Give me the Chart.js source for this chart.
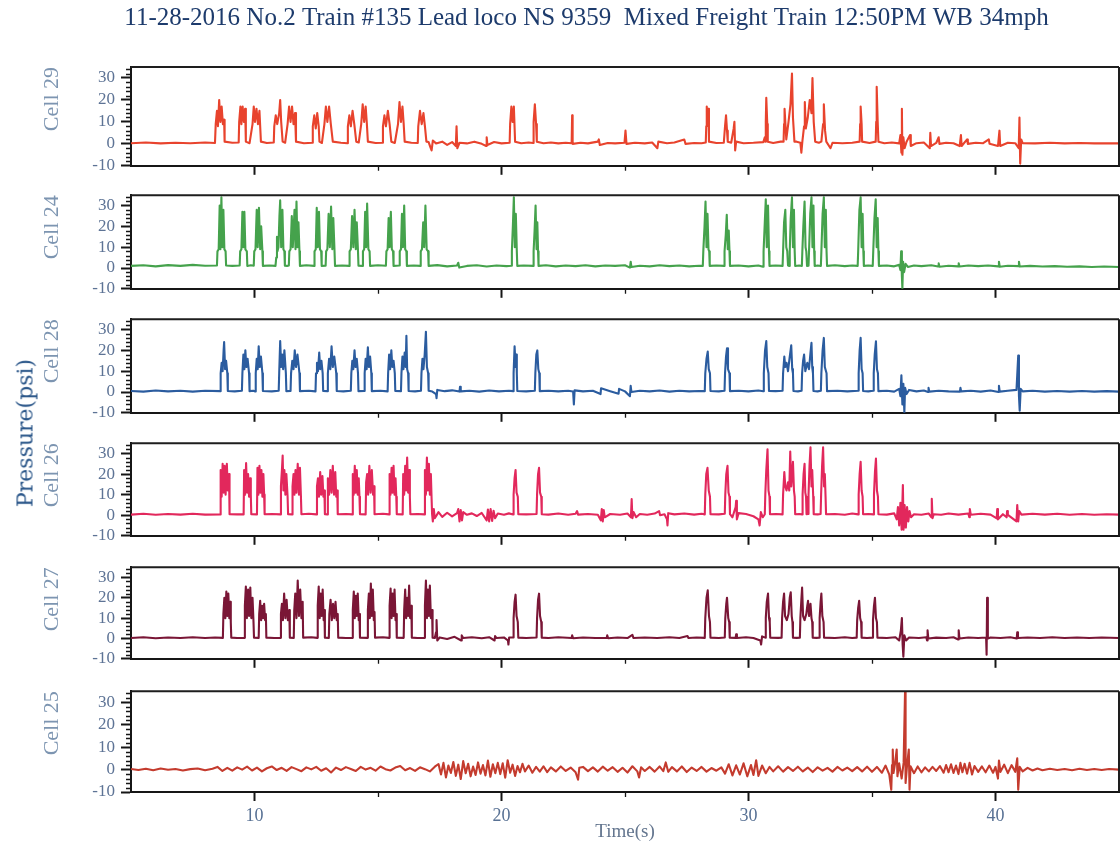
<!DOCTYPE html>
<html>
<head>
<meta charset="utf-8">
<script src="https://cdn.jsdelivr.net/npm/chart.js@4.4.1/dist/chart.umd.min.js"></script>
<style>
  html, body { margin: 0; padding: 0; background: #ffffff; }
  #root { position: relative; width: 1120px; height: 843px; overflow: hidden; background: #ffffff; }
  #root canvas { position: absolute; left: 0; }
  #ylab { position: absolute; left: 25px; top: 433px; transform: translate(-50%, -50%) rotate(-90deg);
          font: 22px "DejaVu Serif"; color: #2a5689; white-space: nowrap; z-index: 5; }
</style>
</head>
<body>
<div id="root"><div id="ylab">Pressure(psi)</div></div>
<script>
// ---------------- data (time s, pressure psi) ----------------
const mainTitle = '11-28-2016 No.2 Train #135 Lead loco NS 9359  Mixed Freight Train 12:50PM WB 34mph';
const cellNames = ['Cell 29', 'Cell 24', 'Cell 28', 'Cell 26', 'Cell 27', 'Cell 25'];
const xTickValues = [10, 20, 30, 40];
const xMinorValues = [15, 25, 35];
const yTickValues = [-10, 0, 10, 20, 30];
const yMinorValues = [-8, -6, -4, -2, 2, 4, 6, 8, 12, 14, 16, 18, 22, 24, 26, 28, 32, 34];

const cell29 = [
[5.0,0.3],[5.6,0.6],[6.2,0.2],[6.8,0.5],[7.4,0.3],[8.0,0.6],[8.40,0.4],
[8.43,9],[8.48,15],[8.52,8],[8.57,20],[8.62,10],[8.67,17],[8.72,9],[8.77,11],[8.79,1],
[9.1,0.5],[9.36,0.6],
[9.38,10],[9.43,17],[9.47,9],[9.52,17],[9.57,10],[9.62,16],[9.65,1],
[9.8,0.3],
[9.92,9],[9.97,17],[10.02,10],[10.08,16],[10.14,9],[10.20,15],[10.26,1],
[10.5,0.4],[10.78,0.6],
[10.80,8],[10.86,13],[10.92,9],[11.00,14],[11.04,20],[11.08,10],[11.14,1],
[11.24,0.5],
[11.34,9],[11.40,17],[11.46,10],[11.52,17],[11.58,9],[11.64,14],[11.68,1],
[12.0,0.3],[12.34,0.5],
[12.36,8],[12.42,13],[12.48,7],[12.54,14],[12.60,8],[12.63,1],
[12.73,0.4],
[12.83,9],[12.89,17],[12.95,10],[13.02,17],[13.09,9],[13.17,1],
[13.5,0.5],[13.76,0.3],
[13.78,8],[13.84,13],[13.90,8],[13.97,15],[14.04,9],[14.12,1],
[14.22,0.6],
[14.32,9],[14.38,18],[14.44,10],[14.50,17],[14.55,9],[14.59,1],
[14.9,0.4],[15.18,0.5],
[15.20,8],[15.26,13],[15.32,8],[15.40,15],[15.47,9],[15.54,1],
[15.68,0.4],
[15.81,9],[15.87,19],[15.93,10],[15.99,17],[16.04,9],[16.08,1],
[16.35,0.5],[16.61,0.4],
[16.63,8],[16.70,15],[16.77,9],[16.84,14],[16.90,8],[16.96,1],
[17.05,0.8],[17.12,-1.5],[17.17,-3],[17.22,1.5],[17.35,0.2],[17.6,1],[17.8,-0.5],[18.0,0.8],[18.15,-1],[18.18,8],[18.21,-2],[18.3,0.5],[18.6,0.2],[18.9,1],[19.2,0],[19.38,-1],[19.40,3],[19.43,-0.5],[19.7,0.8],[20.0,0.2],[20.33,0.5],
[20.35,9],[20.40,17],[20.45,10],[20.50,17],[20.55,1],
[20.8,0.3],[21.1,0.6],[21.28,0.4],
[21.30,10],[21.35,18],[21.40,9],[21.43,1],
[21.7,0.3],[22.0,0.6],[22.3,0.2],[22.6,0.5],[22.84,0.3],[22.86,13],[22.88,0],
[23.2,0.5],[23.5,0.2],[23.9,1],[23.94,2],[23.98,-0.5],[24.3,0.4],[24.6,0.2],[24.98,0.5],[25.02,6],[25.06,0],
[25.4,0.5],[25.8,0.2],[26.1,0.6],[26.31,-2],[26.35,1],[26.7,0.3],[27.0,0.6],[27.4,2],[27.45,0],[27.8,0.4],[28.1,0.3],[28.27,0.6],
[28.29,8],[28.31,17],[28.35,9],[28.38,16],[28.40,1],
[28.7,0.4],[29.0,0.5],[29.05,8],[29.09,13],[29.13,6],[29.16,1],[29.3,0.5],[29.40,7],[29.43,10],[29.46,-3],[29.5,1],
[29.8,0.3],[30.2,0.5],[30.6,0.8],[30.66,3],[30.68,1],[30.70,10],[30.72,21],[30.76,9],[30.78,1],
[31.0,0.4],[31.3,1],[31.42,1],[31.44,9],[31.46,16],[31.50,8],[31.53,2],[31.62,10],[31.70,18],[31.76,32],[31.80,12],[31.86,1],[31.95,1],[32.10,0.5],[32.14,-4],[32.18,1],[32.25,8],[32.28,19],[32.32,7],[32.40,12],[32.48,20],[32.55,14],[32.59,30],[32.64,10],[32.70,1],[32.85,0.5],[32.95,1],[33.02,9],[33.05,18],[33.10,6],[33.15,1],[33.32,-2],[33.4,0.5],
[33.8,0.3],[34.2,0.5],[34.50,1],[34.52,9],[34.54,17],[34.58,9],[34.60,1],
[34.9,0.4],[35.15,1],[35.17,10],[35.19,26],[35.23,10],[35.26,1],
[35.5,0.3],[35.8,0.6],[36.1,0.2],[36.15,4],[36.19,-4],[36.21,16],[36.23,-5],[36.27,3],[36.32,-2],[36.4,1],[36.54,4],[36.57,-1],[36.8,0.3],[37.1,0.6],[37.34,-2],[37.36,5],[37.39,-1],[37.6,0.4],[37.70,3],[37.73,0],[38.0,0.5],[38.3,0.3],[38.55,-1],[38.60,4],[38.63,-1],[38.85,2],[38.88,0],[39.2,0.5],[39.5,0.3],[39.73,2],[39.76,0],[40.1,-1],[40.16,6],[40.19,-1],[40.5,0.5],[40.8,0.3],[40.94,-2],[40.97,12],[41.00,-9],[41.04,2],[41.1,0.3],[41.6,0.2],[42.2,0.5],[42.8,0.2],[43.4,0.4],[44.0,0.2],[44.6,0.3],[45.0,0.2]
];

const cell24 = [
[5.0,1.0],[5.5,1.3],[6.0,0.8],[6.5,1.4],[7.0,1.0],[7.5,1.5],[8.0,1.1],[8.48,1.2],
[8.50,8],[8.55,9],[8.59,30],[8.62,9],[8.66,34],[8.70,10],[8.74,28],[8.78,9],[8.83,8],[8.85,1.2],
[9.1,1.0],[9.40,1.2],
[9.42,8],[9.47,9],[9.51,27],[9.55,10],[9.59,27],[9.63,9],[9.69,8],[9.71,1.0],
[9.85,1.3],[9.97,1.1],
[9.99,8],[10.04,9],[10.09,28],[10.13,10],[10.18,29],[10.23,9],[10.27,20],[10.32,8],[10.34,1.0],
[10.6,1.2],[10.85,1.0],[10.88,5],[10.91,15],[10.93,8],
[10.97,10],[11.01,25],[11.04,32.5],[11.08,10],[11.13,28],[11.17,9],[11.21,8],[11.23,1.1],
[11.32,1.0],[11.39,1.2],
[11.41,8],[11.46,9],[11.51,25],[11.55,10],[11.62,28],[11.66,9],[11.70,32],[11.74,10],[11.78,22],[11.82,8],[11.84,1.0],
[12.1,1.3],[12.41,1.0],
[12.43,8],[12.48,9],[12.52,29],[12.56,10],[12.61,27],[12.65,9],[12.70,8],[12.72,1.0],
[12.88,1.1],
[12.90,8],[12.95,9],[13.00,26],[13.05,10],[13.10,29.5],[13.15,9],[13.19,24],[13.24,8],[13.26,1.0],
[13.55,1.2],[13.83,1.0],
[13.85,8],[13.90,9],[13.95,25],[14.00,10],[14.05,28],[14.10,9],[14.14,22],[14.19,8],[14.21,1.1],
[14.37,1.0],
[14.39,8],[14.44,9],[14.48,27],[14.52,10],[14.56,31],[14.61,9],[14.66,8],[14.68,1.0],
[15.0,1.3],[15.32,1.1],
[15.34,8],[15.39,9],[15.43,24],[15.47,10],[15.52,27],[15.56,9],[15.61,8],[15.63,1.0],
[15.86,1.2],
[15.88,8],[15.93,9],[15.97,26],[16.01,10],[16.06,30],[16.10,9],[16.15,8],[16.17,1.0],
[16.45,1.2],[16.71,1.0],
[16.73,8],[16.78,9],[16.83,22],[16.87,10],[16.92,30],[16.97,9],[17.03,8],[17.05,1.0],
[17.4,1.4],[17.8,0.8],[18.2,1.2],[18.25,2.5],[18.29,0.2],[18.6,1.0],[19.0,1.3],[19.4,0.7],[19.8,1.2],[20.2,0.9],[20.40,1.1],
[20.42,8],[20.46,20],[20.50,34],[20.54,10],[20.58,26],[20.62,8],[20.64,1.0],
[20.9,1.2],[21.28,1.0],
[21.30,8],[21.34,18],[21.38,30],[21.42,9],[21.45,22],[21.48,8],[21.50,1.0],
[21.8,1.3],[22.2,0.8],[22.6,1.2],[23.0,0.9],[23.4,1.3],[23.8,0.8],[24.2,1.2],[24.6,1.0],[25.0,1.3],[25.20,0.2],[25.23,3],[25.26,0.5],[25.6,1.1],[26.0,0.8],[26.4,1.3],[26.8,0.9],[27.2,1.2],[27.6,0.8],[28.0,1.1],[28.15,1.0],
[28.17,8],[28.22,20],[28.26,32],[28.30,10],[28.34,26],[28.38,9],[28.41,8],[28.43,1.0],
[28.7,1.2],[29.01,1.0],
[29.03,8],[29.08,16],[29.12,25.6],[29.16,9],[29.20,18],[29.23,8],[29.25,1.0],
[29.6,1.2],[30.0,0.8],[30.4,1.2],[30.59,0.6],
[30.61,8],[30.66,22],[30.70,33],[30.74,10],[30.79,30],[30.83,8],[30.85,1.0],
[31.1,1.2],[31.38,1.0],
[31.40,8],[31.44,22],[31.49,28],[31.53,10],[31.57,8],[31.60,1.2],[31.65,1.0],
[31.67,8],[31.71,24],[31.76,34],[31.80,10],[31.84,28],[31.87,8],[31.89,1.0],
[32.05,1.2],[32.16,1.0],
[32.18,8],[32.22,20],[32.27,32],[32.31,10],[32.34,8],[32.37,1.0],[32.43,1.1],
[32.45,8],[32.50,26],[32.55,34],[32.59,10],[32.63,30],[32.66,8],[32.68,1.0],
[32.80,1.2],[32.93,1.0],
[32.95,8],[33.00,26],[33.05,34],[33.09,10],[33.13,28],[33.16,8],[33.18,1.0],
[33.5,1.3],[33.9,0.9],[34.2,1.2],[34.42,1.0],
[34.44,8],[34.49,28],[34.54,34],[34.58,10],[34.62,26],[34.65,8],[34.67,1.0],
[34.85,1.2],[35.03,1.0],
[35.05,8],[35.10,24],[35.15,33],[35.19,10],[35.23,24],[35.26,8],[35.28,1.0],
[35.6,1.2],[35.9,0.8],[36.1,1.5],[36.15,-1],[36.18,8],[36.21,-4],[36.23,-10],[36.26,3],[36.30,-2],[36.36,2],[36.45,0.5],[36.7,1.2],[37.0,0.9],[37.4,1.3],[37.68,0.7],[37.70,2.2],[37.73,0.6],[38.1,1.1],[38.49,0.8],[38.51,2.3],[38.54,0.7],[38.9,1.2],[39.3,0.9],[39.7,1.2],[40.12,0.8],[40.14,3],[40.17,0.6],[40.5,1.1],[40.93,0.9],[40.95,3],[40.98,0.7],[41.4,1.0],[41.9,0.7],[42.4,0.9],[42.9,0.6],[43.4,0.8],[43.9,0.5],[44.4,0.7],[45.0,0.5]
];

const cell28 = [
[5.0,0.5],[5.5,0.2],[6.0,0.7],[6.5,0.3],[7.0,0.6],[7.5,0.2],[8.0,0.6],[8.61,0.4],
[8.63,9],[8.67,14],[8.71,10],[8.75,20],[8.77,24],[8.81,11],[8.85,15],[8.90,9],[8.92,0.5],
[9.2,0.3],[9.49,0.6],
[9.51,9],[9.55,18],[9.59,11],[9.63,20],[9.67,12],[9.72,16],[9.78,9],[9.80,0.4],
[9.95,0.6],[10.03,0.3],
[10.05,9],[10.09,16],[10.13,11],[10.17,22],[10.21,12],[10.26,17],[10.32,9],[10.34,0.5],
[10.7,0.3],[10.98,0.6],
[11.00,9],[11.04,24.5],[11.08,12],[11.12,18],[11.16,11],[11.21,20],[11.27,9],[11.29,0.4],
[11.46,0.5],
[11.48,9],[11.53,15],[11.58,11],[11.63,20],[11.68,12],[11.74,18],[11.82,9],[11.84,0.4],
[12.2,0.6],[12.47,0.3],
[12.49,9],[12.53,14],[12.57,10],[12.62,19],[12.66,11],[12.71,15],[12.76,9],[12.78,0.5],
[12.95,0.4],
[12.97,9],[13.02,16],[13.07,11],[13.12,22],[13.17,12],[13.23,17],[13.31,9],[13.33,0.5],
[13.6,0.3],[13.90,0.6],
[13.92,9],[13.96,15],[14.00,11],[14.05,20],[14.09,12],[14.14,16],[14.19,9],[14.21,0.4],
[14.44,0.5],
[14.46,9],[14.50,16],[14.54,11],[14.59,21.5],[14.63,12],[14.68,17],[14.73,9],[14.75,0.4],
[15.1,0.6],[15.39,0.3],
[15.41,9],[15.45,18],[15.49,11],[15.54,20],[15.58,12],[15.63,15],[15.68,9],[15.70,0.5],
[15.93,0.4],
[15.95,9],[15.99,17],[16.03,11],[16.08,19],[16.12,12],[16.15,27],[16.18,11],[16.22,9],[16.24,0.5],
[16.5,0.3],[16.74,0.6],
[16.76,9],[16.80,16],[16.84,11],[16.89,18],[16.94,29],[16.98,12],[17.03,9],[17.05,0.6],
[17.2,0.2],[17.35,-1],[17.37,-3],[17.40,1],[17.7,0.4],[18.0,0.8],[18.30,0.2],[18.32,2.5],[18.35,0.3],[18.7,0.6],[19.1,0.2],[19.5,0.7],[19.9,0.3],[20.3,0.6],[20.47,0.4],
[20.49,9],[20.53,22],[20.57,12],[20.60,18],[20.62,9],[20.64,0.5],
[21.0,0.3],[21.35,0.6],
[21.37,9],[21.41,18],[21.45,20],[21.49,11],[21.53,9],[21.55,0.4],
[21.9,0.6],[22.3,0.3],[22.7,0.6],[22.90,0.2],[22.93,-6],[22.96,0.8],[23.3,0.3],[23.7,0.6],[24.01,-1],[24.03,1.8],[24.4,0.4],[24.74,-0.8],[24.76,1.5],[25.0,0.3],[25.20,-2],[25.23,3],[25.26,0],[25.6,0.6],[26.0,0.3],[26.4,0.7],[26.8,0.2],[27.2,0.6],[27.6,0.3],[28.0,0.5],[28.23,0.4],
[28.25,9],[28.30,16],[28.35,19.4],[28.39,11],[28.44,9],[28.46,0.5],
[28.8,0.3],[29.03,0.6],
[29.05,9],[29.09,17],[29.13,21],[29.17,11],[29.23,9],[29.25,0.4],
[29.6,0.6],[30.0,0.3],[30.4,0.7],[30.60,0.4],
[30.62,9],[30.67,20],[30.72,24.5],[30.76,12],[30.81,9],[30.83,0.5],
[31.1,0.4],[31.38,0.6],
[31.40,9],[31.45,17],[31.49,12],[31.54,14],[31.60,10],[31.66,16],[31.73,22.4],[31.77,11],[31.80,9],[31.82,0.5],
[32.0,0.3],[32.15,0.6],
[32.17,9],[32.21,15],[32.25,18],[32.30,10],[32.38,14],[32.45,11],[32.51,19],[32.55,23.6],[32.58,12],[32.61,9],[32.63,0.5],
[32.80,0.3],[32.93,0.6],
[32.95,9],[33.00,20],[33.05,26],[33.09,12],[33.16,9],[33.18,0.4],
[33.6,0.6],[34.0,0.3],[34.44,0.6],
[34.46,9],[34.50,20],[34.54,26],[34.58,11],[34.62,9],[34.64,0.5],
[34.85,0.3],[35.05,0.6],
[35.07,9],[35.11,18],[35.16,24.4],[35.20,11],[35.24,9],[35.26,0.4],
[35.6,0.6],[35.9,0.2],[36.1,1.5],[36.15,-2],[36.19,8],[36.23,-6],[36.27,4],[36.31,-10],[36.34,2],[36.40,-1],[36.5,1],[36.8,0.3],[37.1,0.7],[37.27,0],[37.29,2],[37.32,0.2],[37.7,0.6],[38.1,0.3],[38.56,0.2],[38.58,2],[38.61,0.3],[39.0,0.6],[39.4,0.2],[39.8,0.7],[40.12,0],[40.14,3],[40.17,0.2],[40.5,0.6],[40.85,1],[40.88,8],[40.92,17.5],[40.95,-2],[40.98,-9],[41.02,1.5],[41.1,0.3],[41.5,0.6],[42.0,0.2],[42.5,0.5],[43.0,0.2],[43.5,0.5],[44.0,0.2],[44.5,0.4],[45.0,0.2]
];

const cell26 = [
[5.0,0.3],[5.5,0.7],[6.0,0.2],[6.5,0.6],[7.0,0.3],[7.5,0.7],[8.0,0.3],[8.61,0.4],
[8.63,22],[8.67,9],[8.71,25],[8.75,11],[8.79,24],[8.83,10],[8.88,25],[8.92,12],[8.97,20],[8.99,0.5],
[9.3,0.4],[9.56,0.4],
[9.58,22],[9.62,10],[9.66,25.3],[9.70,11],[9.74,20],[9.78,9],[9.82,18],[9.85,10],[9.87,0.5],
[10.10,0.4],
[10.12,23],[10.16,10],[10.20,24],[10.24,11],[10.28,22],[10.32,9],[10.36,20],[10.39,10],[10.41,0.5],
[10.7,0.6],[11.05,0.4],
[11.07,14],[11.11,22],[11.14,29],[11.17,12],[11.21,22],[11.25,10],[11.29,20],[11.34,9],[11.36,0.5],
[11.52,0.4],
[11.54,14],[11.58,20],[11.62,10],[11.66,22],[11.70,11],[11.75,25],[11.80,10],[11.84,23],[11.88,9],[11.90,0.5],
[12.2,0.7],[12.51,0.4],
[12.53,14],[12.57,18],[12.61,9],[12.66,21],[12.70,10],[12.75,19],[12.79,9],[12.83,12],[12.85,0.5],
[12.95,0.4],
[12.97,18],[13.02,10],[13.07,22],[13.12,11],[13.17,24],[13.22,10],[13.27,21],[13.31,9],[13.35,12],[13.37,0.5],
[13.7,0.6],[13.96,0.4],
[13.98,20],[14.02,10],[14.06,24],[14.10,11],[14.14,22],[14.18,10],[14.22,18],[14.25,9],[14.27,0.5],
[14.50,0.4],
[14.52,16],[14.56,20],[14.60,10],[14.65,24],[14.70,11],[14.75,22],[14.80,10],[14.84,14],[14.86,0.5],
[15.2,0.7],[15.45,0.4],
[15.47,20],[15.51,10],[15.55,23],[15.59,11],[15.63,24],[15.67,10],[15.71,18],[15.74,9],[15.76,0.5],
[16.00,0.4],
[16.02,20],[16.06,10],[16.10,24],[16.14,12],[16.18,28],[16.22,11],[16.26,22],[16.29,9],[16.31,0.5],
[16.6,0.6],[16.88,0.4],
[16.90,22],[16.94,10],[16.98,28],[17.02,12],[17.06,25],[17.10,10],[17.14,20],[17.17,8],[17.19,0.5],
[17.22,-3],[17.26,3],[17.30,-1.5],[17.45,1.5],[17.6,-0.8],[17.8,1.2],[18.0,-0.6],[18.2,1.0],[18.25,3],[18.30,-3],[18.35,2.5],[18.40,-2.5],[18.45,1.5],[18.6,0.2],[18.8,0.9],[19.0,-0.4],[19.2,1.1],[19.40,-2.5],[19.45,2.8],[19.50,-3],[19.56,3],[19.62,-2.8],[19.68,2.2],[19.74,-1.5],[19.85,0.8],[20.1,0.2],[20.3,0.9],[20.47,0.4],
[20.49,10],[20.53,18],[20.57,22],[20.61,11],[20.66,9],[20.68,0.5],
[21.0,0.4],[21.42,0.6],
[21.44,10],[21.48,20],[21.52,23],[21.56,11],[21.61,9],[21.63,0.5],
[21.9,0.3],[22.3,0.8],[22.7,0.2],[23.0,0.7],[23.06,2],[23.10,0.3],[23.5,0.6],[23.9,0.2],[24.02,-2.5],[24.06,3],[24.10,-3],[24.14,2.5],[24.18,-1],[24.4,0.6],[24.8,0.2],[25.1,0.8],[25.24,-1],[25.27,7.8],[25.30,-1.5],[25.35,1.5],[25.45,-1],[25.6,0.6],[25.9,0.2],[26.2,0.8],[26.38,2],[26.42,0],[26.6,0.5],[26.70,-2],[26.72,-5],[26.75,1],[27.0,0.4],[27.4,0.8],[27.8,0.3],[28.1,0.7],[28.23,0.4],
[28.25,10],[28.29,20],[28.34,23],[28.39,12],[28.44,9],[28.46,0.5],
[28.8,0.4],[29.04,0.7],
[29.06,10],[29.10,20],[29.15,24],[29.19,11],[29.23,9],[29.25,0.5],
[29.35,-1],[29.48,4],[29.50,7],[29.53,-2],[29.6,1],[29.9,0.6],[30.2,-0.5],[30.40,-2],[30.45,-5],[30.50,1.5],[30.58,-1],[30.66,0.5],
[30.68,10],[30.72,22],[30.77,32],[30.81,12],[30.85,9],[30.87,0.5],
[31.1,0.6],[31.38,0.4],
[31.40,10],[31.45,21],[31.49,14],[31.54,12],[31.60,16],[31.65,12],[31.69,31],[31.73,14],[31.80,26],[31.84,12],[31.87,9],[31.89,0.5],
[32.05,0.6],[32.17,0.4],
[32.19,10],[32.23,20],[32.27,25],[32.30,11],[32.33,9],[32.35,0.5],[32.41,0.6],
[32.43,10],[32.47,24],[32.51,33],[32.55,14],[32.58,22],[32.62,9],[32.64,0.5],
[32.80,0.4],[32.92,0.6],
[32.94,10],[32.98,24],[33.02,33],[33.06,14],[33.09,20],[33.12,9],[33.14,0.5],
[33.5,0.6],[33.9,0.2],[34.2,0.8],[34.44,0.4],
[34.46,10],[34.50,20],[34.54,26],[34.58,12],[34.62,9],[34.64,0.5],
[34.85,0.6],[35.06,0.4],
[35.08,10],[35.12,21],[35.16,27.5],[35.20,12],[35.24,9],[35.26,0.5],
[35.6,0.3],[35.9,0.9],[36.00,-2],[36.05,4],[36.10,-5],[36.15,6],[36.20,-7],[36.25,14.7],[36.28,-7],[36.32,5],[36.37,-6],[36.42,4],[36.47,-3],[36.52,2],[36.58,-1],[36.7,0.5],[37.0,0.2],[37.3,0.8],[37.40,-1],[37.42,8],[37.45,-1.5],[37.5,0.5],[37.8,0.2],[38.1,0.8],[38.5,0.3],[38.9,0.8],[38.94,-1],[38.96,3],[39.0,0.2],[39.4,0.7],[39.8,0.3],[40.05,-1.5],[40.07,3],[40.10,-2],[40.3,0.5],[40.45,-1],[40.47,2],[40.5,0.2],[40.85,-3],[40.88,5],[40.92,-3],[40.96,2],[41.05,0.3],[41.5,0.7],[42.0,0.3],[42.5,0.7],[43.0,0.2],[43.5,0.6],[44.0,0.2],[44.5,0.5],[45.0,0.3]
];

const cell27 = [
[5.0,0.2],[5.5,0.6],[6.0,0.1],[6.5,0.5],[7.0,0.2],[7.5,0.6],[8.0,0.2],[8.4,0.5],[8.72,0.3],
[8.74,12],[8.78,20],[8.82,10],[8.86,23],[8.90,11],[8.94,22],[8.98,10],[9.02,18],[9.04,8],[9.06,0.4],
[9.3,0.2],[9.59,0.3],
[9.61,16],[9.65,25.5],[9.69,10],[9.74,24],[9.78,11],[9.83,25],[9.87,10],[9.92,20],[9.96,8],[9.98,0.4],
[10.17,0.3],
[10.19,12],[10.23,18.5],[10.27,9],[10.31,16],[10.35,10],[10.39,17],[10.43,9],[10.46,12],[10.48,0.4],
[10.8,0.2],[11.05,0.3],
[11.07,12],[11.11,17],[11.15,9],[11.20,22],[11.25,10],[11.30,19],[11.35,9],[11.41,14],[11.43,0.4],
[11.59,0.3],
[11.61,14],[11.65,22],[11.70,10],[11.75,28.5],[11.80,11],[11.85,24],[11.90,10],[11.95,18],[11.97,0.4],
[12.3,0.6],[12.54,0.3],
[12.56,16],[12.60,25.5],[12.64,10],[12.68,22],[12.72,11],[12.76,24],[12.80,9],[12.83,14],[12.85,0.4],
[13.01,0.3],
[13.03,12],[13.08,19],[13.13,9],[13.18,17],[13.23,10],[13.28,18],[13.33,9],[13.37,12],[13.39,0.4],
[13.7,0.2],[13.96,0.3],
[13.98,14],[14.02,23],[14.06,10],[14.10,21],[14.14,11],[14.18,22],[14.22,9],[14.25,12],[14.27,0.4],
[14.57,0.3],
[14.59,14],[14.63,22],[14.67,10],[14.71,27],[14.75,11],[14.79,24],[14.83,9],[14.86,13],[14.88,0.4],
[15.2,0.6],[15.45,0.3],
[15.47,16],[15.51,24.5],[15.55,10],[15.59,22],[15.63,11],[15.67,24],[15.71,9],[15.74,12],[15.76,0.4],
[16.04,0.3],
[16.06,14],[16.10,24],[16.14,10],[16.18,20],[16.22,11],[16.26,26],[16.30,10],[16.35,16],[16.37,0.4],
[16.6,0.2],[16.88,0.3],
[16.90,16],[16.94,28.5],[16.98,10],[17.02,24],[17.06,11],[17.10,26],[17.14,10],[17.19,14],[17.21,0.4],
[17.30,0.2],[17.35,3],[17.37,9],[17.40,-1],[17.5,0.5],[17.8,-0.3],[18.1,0.8],[18.37,-1],[18.39,1.5],[18.45,0.2],[18.8,0.6],[19.2,0.1],[19.5,0.6],[19.72,-1],[19.74,1.2],[19.8,0.2],[20.1,0.5],[20.26,-1],[20.28,-3],[20.31,0.5],[20.47,0.5],
[20.49,10],[20.53,18],[20.57,21.5],[20.61,11],[20.66,8],[20.68,0.4],
[21.0,0.2],[21.42,0.5],
[21.44,10],[21.48,19],[21.52,22],[21.56,11],[21.61,8],[21.63,0.4],
[21.9,0.2],[22.3,0.6],[22.84,0.2],[22.86,1.5],[22.90,0.1],[23.3,0.5],[23.8,0.2],[24.26,0.3],[24.28,1.5],[24.32,0.1],[24.7,0.5],[25.1,0.2],[25.30,1.8],[25.34,0.2],[25.8,0.5],[26.3,0.2],[26.8,0.6],[27.2,0.2],[27.53,1.2],[27.57,0.2],[27.9,0.5],[28.23,0.3],
[28.25,10],[28.30,20],[28.35,23.6],[28.40,11],[28.44,8],[28.46,0.4],
[28.8,0.2],[29.04,0.5],
[29.06,10],[29.10,17],[29.13,20],[29.18,10],[29.22,8],[29.24,0.4],
[29.48,0.3],[29.50,2],[29.53,0.2],[29.9,0.6],[30.2,0.2],[30.48,-1],[30.51,-3],[30.55,1],[30.68,0.4],
[30.70,10],[30.74,18],[30.79,22],[30.83,10],[30.86,8],[30.88,0.4],
[31.2,0.3],[31.34,0.4],
[31.36,10],[31.40,18],[31.44,22],[31.48,11],[31.55,9],[31.62,12],[31.67,20],[31.71,22.7],[31.75,11],[31.78,8],[31.80,0.4],
[31.95,0.3],[32.08,0.4],
[32.10,10],[32.14,19],[32.17,25],[32.21,11],[32.27,9],[32.34,12],[32.38,16],[32.41,18.5],[32.45,11],[32.51,17],[32.55,10],[32.58,8],[32.60,0.4],
[32.75,0.3],[32.86,0.4],
[32.88,10],[32.92,18],[32.95,22],[32.99,11],[33.04,8],[33.06,0.4],
[33.5,0.2],[33.9,0.6],[34.2,0.2],[34.38,0.4],
[34.40,9],[34.44,15],[34.48,18.5],[34.52,10],[34.56,8],[34.58,0.4],
[34.8,0.2],[35.02,0.4],
[35.04,9],[35.08,16],[35.12,20],[35.16,10],[35.20,8],[35.22,0.4],
[35.6,0.2],[35.95,0.6],[36.10,-1],[36.17,4],[36.21,10],[36.24,-3],[36.27,-9],[36.31,1.5],[36.38,-1],[36.5,0.5],[36.9,0.2],[37.2,0.6],[37.23,-1],[37.25,4],[37.28,0],[37.6,0.4],[38.0,0.2],[38.3,0.6],[38.49,-0.5],[38.51,4],[38.54,0],[38.9,0.5],[39.3,0.2],[39.62,0.5],[39.64,-8],[39.66,20],[39.69,0],[39.8,0.5],[40.2,0.2],[40.6,0.6],[40.86,0],[40.88,3],[40.91,0.2],[41.3,0.5],[41.8,0.2],[42.3,0.6],[42.8,0.2],[43.3,0.5],[43.8,0.2],[44.3,0.5],[45.0,0.2]
];

const cell25 = [
[5.0,0.3],[5.3,-0.2],[5.6,0.4],[5.9,-0.3],[6.2,0.5],[6.5,-0.1],[6.8,0.3],[7.1,-0.4],[7.4,0.2],[7.7,0.5],[8.0,-0.3],[8.3,0.4],[8.5,1.2],[8.7,-0.6],[8.9,0.8],[9.1,-0.5],[9.3,1.0],[9.5,0.0],[9.7,1.3],[9.9,-0.4],[10.1,0.9],[10.3,-0.8],[10.5,0.6],[10.7,1.4],[10.9,-0.2],[11.1,0.8],[11.3,-0.6],[11.5,1.1],[11.7,0.2],[11.9,-0.7],[12.1,1.0],[12.3,0.1],[12.5,1.2],[12.7,-0.5],[12.9,0.6],[13.1,-1.3],[13.3,0.9],[13.5,-0.2],[13.7,1.1],[13.9,0.3],[14.1,-0.6],[14.3,1.2],[14.5,0.0],[14.7,0.8],[14.9,-0.5],[15.1,1.4],[15.3,0.2],[15.5,-0.4],[15.7,0.9],[15.9,1.6],[16.1,-0.3],[16.3,0.7],[16.5,-0.6],[16.7,1.0],[16.9,0.2],[17.1,-0.8],[17.3,1.3],
[17.45,2.5],[17.55,-2.2],[17.65,3.0],[17.75,-3.5],[17.85,1.8],[17.95,-1.5],[18.05,3.4],[18.15,-2.8],[18.25,2.2],[18.35,-4.2],[18.45,3.8],[18.55,-1.6],[18.65,2.6],[18.75,-3.0],[18.85,1.4],[18.95,-2.4],[19.05,3.2],[19.15,-1.8],[19.25,2.0],[19.35,-2.6],[19.45,4.0],[19.55,-3.2],[19.65,2.4],[19.75,-1.6],[19.85,3.0],[19.95,-2.0],[20.05,2.8],[20.15,-3.6],[20.25,4.2],[20.35,-1.4],[20.45,2.2],[20.55,-2.8],[20.65,1.6],[20.75,-1.2],[20.85,2.6],[20.95,-0.8],[21.1,1.8],[21.25,-1.4],[21.4,1.2],[21.55,-0.9],[21.7,1.5],[21.85,-1.1],[22.0,1.0],[22.2,-0.8],[22.4,1.4],[22.6,-0.6],[22.8,0.9],[23.0,-1.2],[23.1,-4.5],[23.15,0.8],[23.3,1.2],[23.5,-0.7],[23.7,1.0],[23.9,-0.9],[24.1,1.3],[24.3,-0.5],[24.5,1.1],[24.7,-1.0],[24.9,0.8],[25.1,-1.3],[25.3,1.5],[25.5,-0.8],[25.57,-3.5],[25.65,1.0],[25.8,-0.6],[26.0,1.2],[26.2,-0.9],[26.4,1.4],[26.55,-0.7],[26.65,3.2],[26.75,-1.0],[26.9,1.1],[27.1,-0.8],[27.3,1.4],[27.5,-1.1],[27.7,0.9],[27.9,-0.6],[28.1,1.2],[28.3,-0.9],[28.5,0.7],[28.7,-0.5],[28.9,1.0],[29.05,-1.8],[29.2,2.4],[29.35,-2.6],[29.5,1.9],[29.65,-2.2],[29.8,2.8],[29.95,-3.0],[30.1,2.0],[30.2,-2.4],[30.31,4.2],[30.4,-2.8],[30.55,1.8],[30.7,-1.6],[30.85,1.2],[31.0,-0.8],[31.2,1.5],[31.4,-0.9],[31.6,1.1],[31.8,-0.6],[32.0,1.3],[32.2,-0.8],[32.4,0.9],[32.6,-1.1],[32.8,1.0],[33.0,-0.5],[33.2,0.8],[33.4,-0.9],[33.6,1.2],[33.8,-0.4],[34.0,0.9],[34.2,-0.7],[34.4,1.1],[34.6,-0.8],[34.8,1.3],[35.0,-1.0],[35.2,1.2],[35.4,-1.4],[35.55,1.8],[35.7,-2.2],[35.78,-9],[35.81,2],[35.84,9],[35.87,-1.5],[35.93,2.5],[36.0,9],[36.03,-3],[36.1,2.8],[36.2,-4],[36.28,3],[36.34,36],[36.36,-6],[36.42,2],[36.49,9],[36.52,-9],[36.56,1.5],[36.7,-1.6],[36.85,1.4],[37.0,-1.2],[37.15,1.0],[37.3,-0.8],[37.45,1.2],[37.6,-0.6],[37.75,1.6],[37.9,-1.4],[38.0,2.0],
[38.1,-1.2],[38.2,2.4],[38.3,-1.5],[38.4,1.8],[38.5,-2.0],[38.58,3.0],[38.66,-1.2],[38.75,2.6],[38.85,-1.8],[38.95,3.0],[39.05,-2.2],[39.15,1.6],[39.3,-1.0],[39.45,1.4],[39.6,-1.2],[39.75,1.8],[39.9,-1.4],[40.0,1.2],[40.1,-4.0],[40.14,4.0],[40.2,-1.0],[40.35,2.2],[40.5,-1.6],[40.65,2.0],[40.8,-1.0],[40.88,5.0],[40.92,-9.0],[40.98,1.2],[41.1,-0.8],[41.3,0.8],[41.5,-0.4],[41.7,0.5],[41.9,-0.3],[42.2,0.4],[42.5,-0.2],[42.8,0.3],[43.1,-0.3],[43.4,0.4],[43.7,-0.2],[44.0,0.3],[44.3,-0.2],[44.6,0.3],[45.0,0.0]
];

// ---------------- presentation ----------------
const seriesList = [cell29, cell24, cell28, cell26, cell27, cell25];
const seriesColors = ['#e8432d', '#45a24c', '#2b5c9f', '#e2285c', '#7a1636', '#c43b2e'];
const panelTop = [67, 191, 315, 439, 563, 687];
const panelH = [99, 98, 98, 97, 96, 105];
const AXIS_X = 131;        // left edge of the plotting area
const PAGE_H = 843;

const frameAndMinor = {
  id: 'frameAndMinor',
  afterDraw(chart) {
    const {ctx, chartArea: a, scales} = chart;
    const xs = scales.x, ys = scales.y;
    ctx.save();
    ctx.strokeStyle = '#161616';
    ctx.lineWidth = 1.3;
    ctx.beginPath();
    for (const v of yMinorValues) {
      const py = Math.round(ys.getPixelForValue(v)) + 0.5;
      ctx.moveTo(a.left - 5, py); ctx.lineTo(a.left, py);
    }
    for (const v of xMinorValues) {
      const px = Math.round(xs.getPixelForValue(v)) + 0.5;
      ctx.moveTo(px, a.bottom); ctx.lineTo(px, a.bottom + 5);
    }
    ctx.stroke();
    ctx.lineWidth = 2;
    ctx.strokeStyle = '#1e1e1e';
    ctx.beginPath();
    ctx.moveTo(a.left, a.top); ctx.lineTo(a.right, a.top);
    ctx.moveTo(a.right, a.top); ctx.lineTo(a.right, a.bottom);
    ctx.stroke();
    ctx.restore();
  }
};

const root = document.getElementById('root');
seriesList.forEach((series, i) => {
  const first = i === 0, last = i === seriesList.length - 1;
  const padTop = first ? 0 : 12;
  const padLeft = first ? 54 : 0;
  const canvasTop = first ? 0 : panelTop[i] - padTop;
  const xH = last ? (PAGE_H - canvasTop - padTop - panelH[i]) : 16;
  const canvasH = first ? panelTop[0] + panelH[0] + xH : padTop + panelH[i] + xH;
  const cv = document.createElement('canvas');
  cv.width = 1120; cv.height = canvasH;
  cv.style.top = canvasTop + 'px';
  cv.style.width = '1120px'; cv.style.height = canvasH + 'px';
  root.appendChild(cv);

  new Chart(cv, {
    type: 'line',
    data: {
      datasets: [{
        label: cellNames[i],
        data: series.map(([t, p]) => ({x: t, y: p})),
        borderColor: seriesColors[i],
        borderWidth: 2.1,
        borderJoinStyle: 'round',
        pointRadius: 0,
        tension: 0,
        fill: false
      }]
    },
    options: {
      responsive: false,
      animation: false,
      devicePixelRatio: 1,
      events: [],
      layout: { padding: { top: padTop, left: padLeft, right: 1, bottom: 0 } },
      plugins: {
        legend: { display: false },
        tooltip: { enabled: false },
        title: first ? {
          display: true,
          text: mainTitle,
          color: '#1d3b6c',
          font: { family: 'Liberation Serif', size: 25, weight: 'normal' },
          padding: { top: 3, bottom: 34 }
        } : { display: false }
      },
      scales: {
        x: {
          type: 'linear', min: 5, max: 45,
          afterBuildTicks: s => { s.ticks = xTickValues.map(v => ({value: v})); },
          afterFit: s => { s.height = xH; },
          grid: { display: true, drawOnChartArea: false, drawTicks: true, tickLength: 9, tickWidth: 2, tickColor: '#161616', color: '#161616' },
          border: { display: true, width: 2, color: '#161616' },
          ticks: {
            display: last, autoSkip: false, maxRotation: 0, padding: 4,
            color: '#587194',
            font: { family: 'Liberation Serif', size: 18 }
          },
          title: last ? {
            display: true, text: 'Time(s)', color: '#64768f',
            font: { family: 'Liberation Serif', size: 19 },
            padding: { top: 0, bottom: 0 }
          } : { display: false }
        },
        y: {
          min: -10, max: 35,
          afterBuildTicks: s => { s.ticks = yTickValues.map(v => ({value: v})); },
          afterFit: s => { s.width = AXIS_X - padLeft; },
          grid: { display: true, drawOnChartArea: false, drawTicks: true, tickLength: 10, tickWidth: 2, tickColor: '#161616', color: '#161616' },
          border: { display: true, width: 2, color: '#161616' },
          ticks: {
            padding: 6, color: '#5d7395',
            font: { family: 'Liberation Serif', size: 17 }
          },
          title: {
            display: true, text: cellNames[i], align: 'end',
            color: '#7d95b1',
            font: { family: 'Liberation Serif', size: 22 },
            padding: { top: 52 - padLeft - 13.2, bottom: 0 }
          }
        }
      }
    },
    plugins: [frameAndMinor]
  });
});
</script>
</body>
</html>
